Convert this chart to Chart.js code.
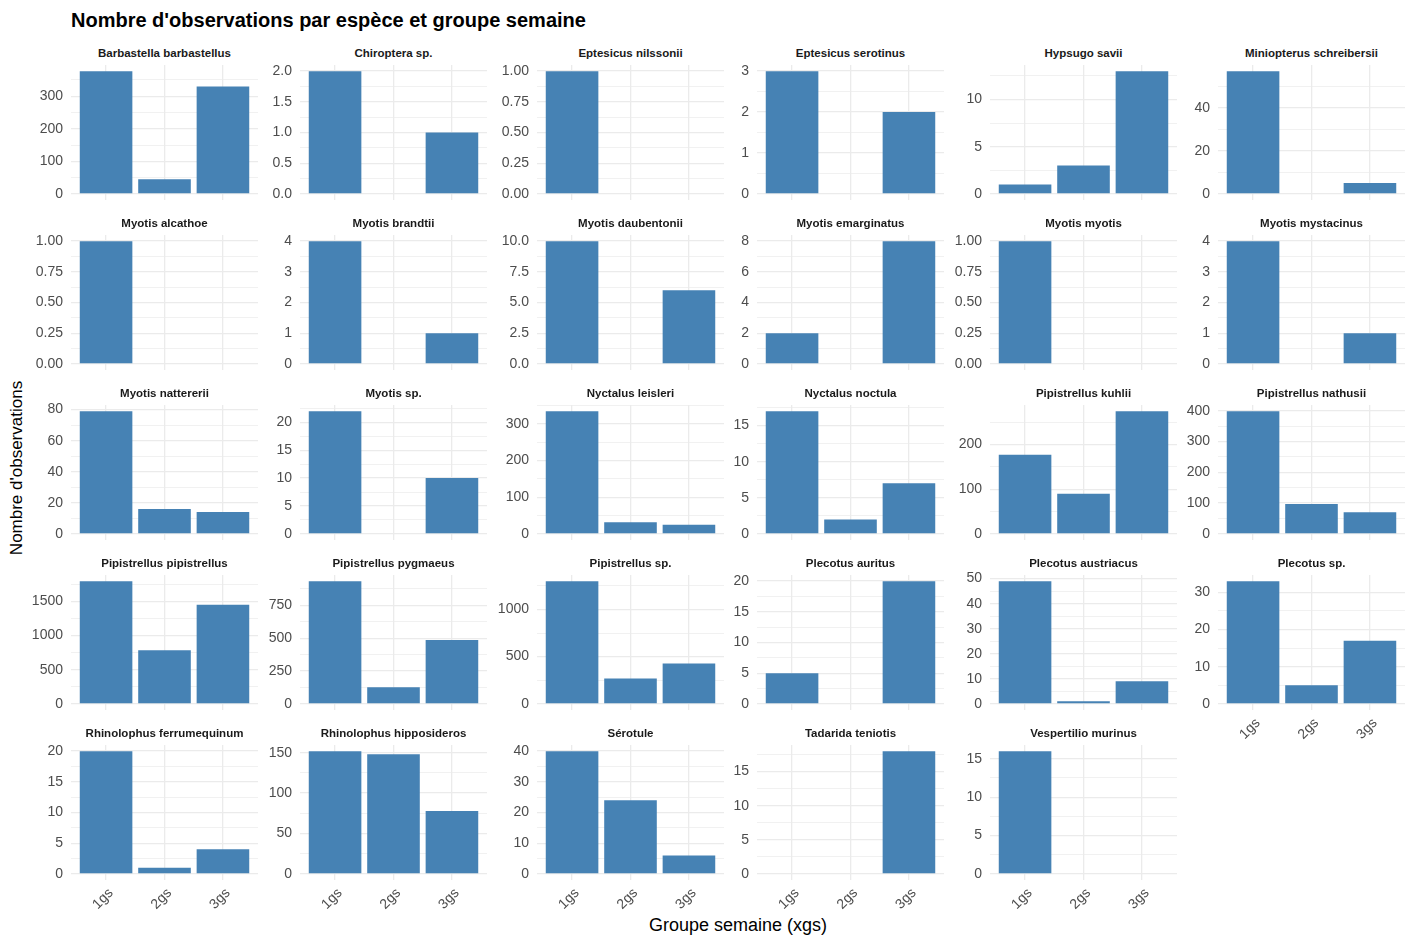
<!DOCTYPE html>
<html>
<head>
<meta charset="utf-8">
<script src="https://cdn.jsdelivr.net/npm/chart.js@4.4.1/dist/chart.umd.min.js"></script>
<style>
body { margin: 0; background: #fff; font-family: 'Liberation Sans', Arial, sans-serif; }
#page { position: relative; width: 1410px; height: 935px; overflow: hidden; }
#title { position: absolute; left: 71px; top: 9px; font-size: 20px; font-weight: bold; line-height: 22px; color: #000; white-space: nowrap; }
.strip { position: absolute; width: 187px; text-align: center; font-weight: bold; font-size: 11.5px; line-height: 16px; color: #1a1a1a; white-space: nowrap; }
.axtitle { position: absolute; color: #000; white-space: nowrap; line-height: 20px; }
canvas { position: absolute; }
</style>
</head>
<body>
<div id="page">
  <div id="title">Nombre d'observations par espèce et groupe semaine</div>
  <div class="axtitle" style="left:17px;top:468px;font-size:17px;transform:translate(-50%,-50%) rotate(-90deg);">Nombre d'observations</div>
  <div class="axtitle" style="left:738px;top:925px;font-size:18px;transform:translate(-50%,-50%);">Groupe semaine (xgs)</div>
</div>
<script>
var weeks = ['1gs', '2gs', '3gs'];

var species = [
  'Barbastella barbastellus', 'Chiroptera sp.', 'Eptesicus nilssonii', 'Eptesicus serotinus', 'Hypsugo savii', 'Miniopterus schreibersii',
  'Myotis alcathoe', 'Myotis brandtii', 'Myotis daubentonii', 'Myotis emarginatus', 'Myotis myotis', 'Myotis mystacinus',
  'Myotis nattererii', 'Myotis sp.', 'Nyctalus leisleri', 'Nyctalus noctula', 'Pipistrellus kuhlii', 'Pipistrellus nathusii',
  'Pipistrellus pipistrellus', 'Pipistrellus pygmaeus', 'Pipistrellus sp.', 'Plecotus auritus', 'Plecotus austriacus', 'Plecotus sp.',
  'Rhinolophus ferrumequinum', 'Rhinolophus hipposideros', 'Sérotule', 'Tadarida teniotis', 'Vespertilio murinus'
];

// counts per week group, same order as species
var gs1 = [377, 2, 1, 3, 1, 57, 1, 4, 10, 2, 1, 4, 79, 22, 335, 17, 177, 399, 1795, 934, 1299, 5, 49, 33, 20, 152, 40, 0, 16];
var gs2 = [45, 0, 0, 0, 3, 0, 0, 0, 0, 0, 0, 0, 16, 0, 32, 2, 90, 97, 784, 127, 268, 0, 1, 5, 1, 148, 24, 0, 0];
var gs3 = [330, 1, 0, 2, 13, 5, 0, 1, 6, 8, 0, 1, 14, 10, 25, 7, 275, 70, 1451, 486, 426, 20, 9, 17, 4, 78, 6, 18, 0];

// y axis labels of each panel
var yBreaks = [
  [0, 100, 200, 300], [0, 0.5, 1, 1.5, 2], [0, 0.25, 0.5, 0.75, 1], [0, 1, 2, 3], [0, 5, 10], [0, 20, 40],
  [0, 0.25, 0.5, 0.75, 1], [0, 1, 2, 3, 4], [0, 2.5, 5, 7.5, 10], [0, 2, 4, 6, 8], [0, 0.25, 0.5, 0.75, 1], [0, 1, 2, 3, 4],
  [0, 20, 40, 60, 80], [0, 5, 10, 15, 20], [0, 100, 200, 300], [0, 5, 10, 15], [0, 100, 200], [0, 100, 200, 300, 400],
  [0, 500, 1000, 1500], [0, 250, 500, 750], [0, 500, 1000], [0, 5, 10, 15, 20], [0, 10, 20, 30, 40, 50], [0, 10, 20, 30],
  [0, 5, 10, 15, 20], [0, 50, 100, 150], [0, 10, 20, 30, 40], [0, 5, 10, 15], [0, 5, 10, 15]
];

var colLeft = [71, 300, 537, 757, 990, 1218];
var rowTop = [65, 235, 405, 575, 745];
var panelW = 187, panelH = 135, axisW = 60, pad = 20;
var page = document.getElementById('page');

function decimals(v) {
  var s = String(v);
  var p = s.indexOf('.');
  return p < 0 ? 0 : s.length - p - 1;
}

function tickList(br, lo, hi) {
  var step = br[1] - br[0];
  var out = [];
  for (var k = 0; k < br.length; k++) {
    out.push({ value: br[k] });
    var m = br[k] + step / 2;
    if (m <= hi) out.push({ value: m, minor: true });
  }
  return out.filter(function(t) { return t.value >= lo && t.value <= hi; });
}

function makePanel(i) {
  var col = i % 6, row = Math.floor(i / 6);
  var bottom = (i + 6 >= species.length);
  var left = colLeft[col], top = rowTop[row];
  var xH = bottom ? 40 : 0;

  var strip = document.createElement('div');
  strip.className = 'strip';
  strip.style.left = left + 'px';
  strip.style.top = (top - 20) + 'px';
  strip.textContent = species[i];
  page.appendChild(strip);

  var cv = document.createElement('canvas');
  cv.width = axisW + panelW + 2 * pad;
  cv.height = panelH + xH + 2 * pad;
  cv.style.left = (left - axisW - pad) + 'px';
  cv.style.top = (top - pad) + 'px';
  page.appendChild(cv);

  var vals = [gs1[i], gs2[i], gs3[i]];
  var hiVal = Math.max.apply(null, vals);
  var ymin = -0.05 * hiVal, ymax = 1.05 * hiVal;
  var br = yBreaks[i];
  var dec = Math.max.apply(null, br.map(decimals));

  new Chart(cv, {
    type: 'bar',
    data: {
      datasets: [{
        data: vals.map(function(v, k) { return { x: k + 1, y: v }; }),
        backgroundColor: '#4682b4',
        borderWidth: 0,
        barPercentage: 0.9,
        categoryPercentage: 1
      }]
    },
    options: {
      responsive: false,
      animation: false,
      events: [],
      layout: { padding: pad },
      plugins: { legend: { display: false }, tooltip: { enabled: false } },
      scales: {
        x: {
          type: 'linear', min: 0.4, max: 3.6, offset: false,
          border: { display: false },
          grid: { offset: false, color: '#ebebeb', lineWidth: 1.3, drawTicks: false },
          afterBuildTicks: function(s) { s.ticks = weeks.map(function(w, k) { return { value: k + 1 }; }); },
          afterFit: function(s) { s.height = xH; },
          ticks: {
            display: bottom, autoSkip: false, minRotation: 45, maxRotation: 45, padding: 5, labelOffset: 5,
            color: '#4d4d4d', font: { size: 14 },
            callback: function(v) { return weeks[Math.round(v) - 1]; }
          }
        },
        y: {
          min: ymin, max: ymax,
          border: { display: false },
          grid: {
            drawTicks: false, color: '#ebebeb',
            lineWidth: function(c) { return c.tick && c.tick.minor ? 0.7 : 1.3; }
          },
          afterBuildTicks: function(s) { s.ticks = tickList(br, ymin, ymax); },
          afterFit: function(s) { s.width = axisW; },
          ticks: {
            autoSkip: false, padding: 8, color: '#4d4d4d', font: { size: 14 },
            callback: function(v, k, t) { return t[k].minor ? '' : v.toFixed(dec); }
          }
        }
      }
    }
  });
}

for (var i = 0; i < species.length; i++) makePanel(i);
</script>
</body>
</html>
